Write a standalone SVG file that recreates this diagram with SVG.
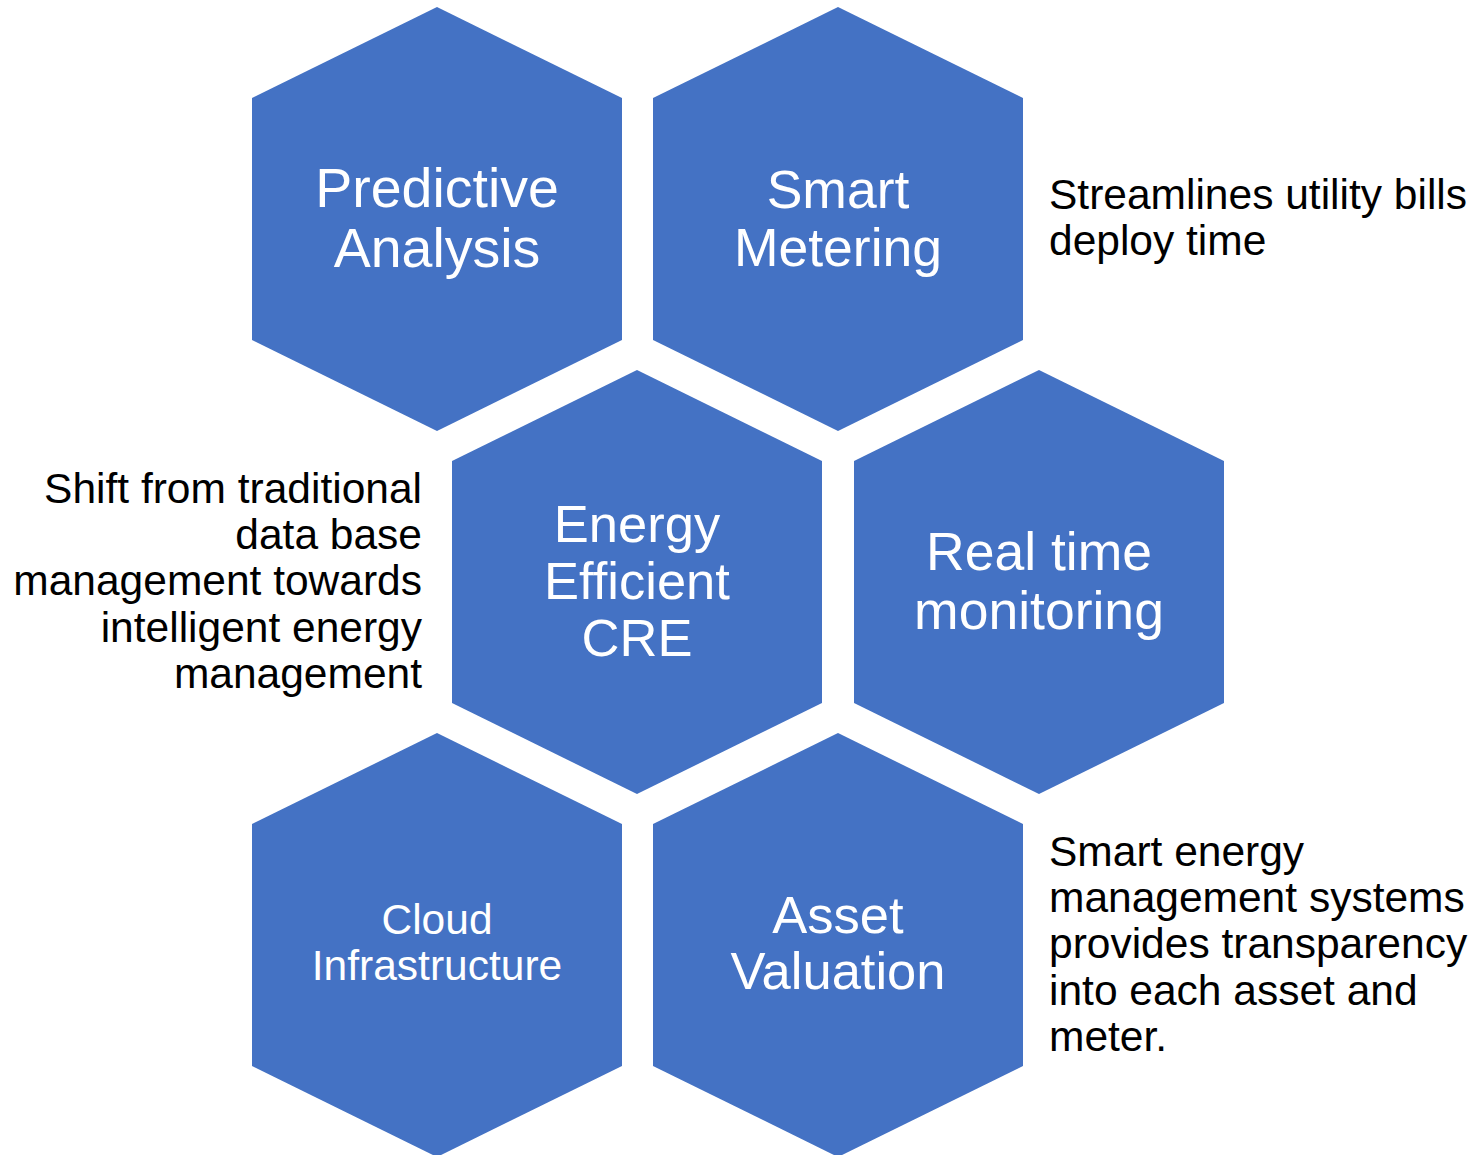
<svg xmlns="http://www.w3.org/2000/svg" width="1473" height="1155" viewBox="0 0 1473 1155">
<style>
.hex{fill:#4472C4;}
.ht{fill:#FFFFFF;font-family:"Liberation Sans",Arial,sans-serif;text-anchor:middle;}
.note{fill:#000000;font-family:"Liberation Sans",Arial,sans-serif;font-size:42.5px;}
</style>
<rect width="1473" height="1155" fill="#FFFFFF"/>
<g id="connectors"/>
<g id="predictive-analysis">
<polygon class="hex" points="437,7 622,98 622,340 437,431 252,340 252,98"/>
<text class="ht" font-size="55.5"><tspan x="437" y="207">Predictive</tspan><tspan x="437" y="267">Analysis</tspan></text>
</g>
<g id="smart-metering">
<polygon class="hex" points="838,7 1023,98 1023,340 838,431 653,340 653,98"/>
<text class="ht" font-size="53.5"><tspan x="838" y="208">Smart</tspan><tspan x="838" y="266">Metering</tspan></text>
</g>
<g id="energy-efficient-cre">
<polygon class="hex" points="637,370 822,461 822,703 637,794 452,703 452,461"/>
<text class="ht" font-size="52.5"><tspan x="637" y="542">Energy</tspan><tspan x="637" y="599">Efficient</tspan><tspan x="637" y="656">CRE</tspan></text>
</g>
<g id="real-time-monitoring">
<polygon class="hex" points="1039,370 1224,461 1224,703 1039,794 854,703 854,461"/>
<text class="ht" font-size="53.5"><tspan x="1039" y="570">Real time</tspan><tspan x="1039" y="629">monitoring</tspan></text>
</g>
<g id="cloud-infrastructure">
<polygon class="hex" points="437,733 622,824 622,1066 437,1157 252,1066 252,824"/>
<text class="ht" font-size="42.5"><tspan x="437" y="934">Cloud</tspan><tspan x="437" y="980">Infrastructure</tspan></text>
</g>
<g id="asset-valuation">
<polygon class="hex" points="838,733 1023,824 1023,1066 838,1157 653,1066 653,824"/>
<text class="ht" font-size="52.5"><tspan x="838" y="933">Asset</tspan><tspan x="838" y="989">Valuation</tspan></text>
</g>
<g id="note-smart-metering">
<text class="note"><tspan x="1049" y="209">Streamlines utility bills</tspan><tspan x="1049" y="255">deploy time</tspan></text>
</g>
<g id="note-energy-efficient">
<text class="note" text-anchor="end"><tspan x="422" y="503">Shift from traditional</tspan><tspan x="422" y="549">data base</tspan><tspan x="422" y="595">management towards</tspan><tspan x="422" y="642">intelligent energy</tspan><tspan x="422" y="688">management</tspan></text>
</g>
<g id="note-asset-valuation">
<text class="note"><tspan x="1049" y="866">Smart energy</tspan><tspan x="1049" y="912">management systems</tspan><tspan x="1049" y="958">provides transparency</tspan><tspan x="1049" y="1005">into each asset and</tspan><tspan x="1049" y="1051">meter.</tspan></text>
</g>
</svg>
